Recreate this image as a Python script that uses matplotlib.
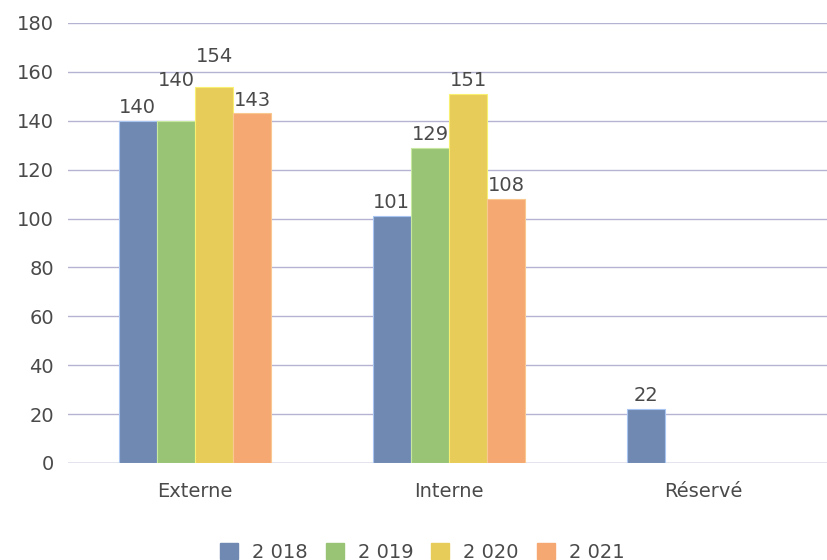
import matplotlib
matplotlib.use("Agg")
import matplotlib.pyplot as plt
from matplotlib.patches import Patch
import numpy as np

plt.rcParams["font.family"] = "DejaVu Sans"

categories = ["Externe", "Interne", "Réservé"]
years = ["2 018", "2 019", "2 020", "2 021"]
values = {
    "2 018": [140, 101, 22],
    "2 019": [140, 129, None],
    "2 020": [154, 151, None],
    "2 021": [143, 108, None],
}
colors = ["#7089b2", "#99c476", "#e8cc5a", "#f5a872"]
edges = ["#a8c4f0", "#c8e8a0", "#f8f070", "#f8c890"]
text_color = "#4a4a4a"

# labels pushed up to avoid overlap (as in the original rendering)
label_shift = {("2 019", 0): 11, ("2 020", 0): 7}

fig = plt.figure(figsize=(8.28, 5.6), dpi=100)
ax = fig.add_axes([68 / 828, 1 - 463 / 560, 762 / 828, 440 / 560])

x = np.arange(len(categories))
w = 0.15
for i, yr in enumerate(years):
    for j, v in enumerate(values[yr]):
        if v is None:
            continue
        xpos = x[j] - 0.3 + w * (i + 0.5)
        ax.bar(xpos, v, width=w, color=colors[i], edgecolor=edges[i],
               linewidth=0.8, zorder=3)
        ax.text(xpos, v + 1.6 + label_shift.get((yr, j), 0), str(v),
                ha="center", va="bottom", fontsize=14, color=text_color, zorder=4)

ax.set_xlim(-0.5, 2.5)
ax.set_ylim(0, 180)
ax.set_yticks(range(0, 181, 20))
ax.set_xticks(x)
ax.set_xticklabels(categories)
ax.grid(axis="y", color="#b4b4d2", linewidth=1, zorder=0)
ax.tick_params(axis="y", length=0, labelsize=14, labelcolor=text_color, pad=10)
ax.tick_params(axis="x", length=0, labelsize=14, labelcolor=text_color, pad=14)
for s in ax.spines.values():
    s.set_visible(False)
ax.axhline(0, color="#b4b4d2", linewidth=1, zorder=2)

handles = [Patch(facecolor=c, edgecolor=c) for c in colors]
fig.legend(handles, years, loc="center", bbox_to_anchor=(0.510, 1 - 552 / 560),
           ncol=4, frameon=False, fontsize=14, handlelength=0.93, handleheight=0.93,
           handletextpad=0.72, columnspacing=0.93, labelcolor=text_color,
           borderpad=0, bbox_transform=fig.transFigure)

fig.savefig("out.png", dpi=100)
